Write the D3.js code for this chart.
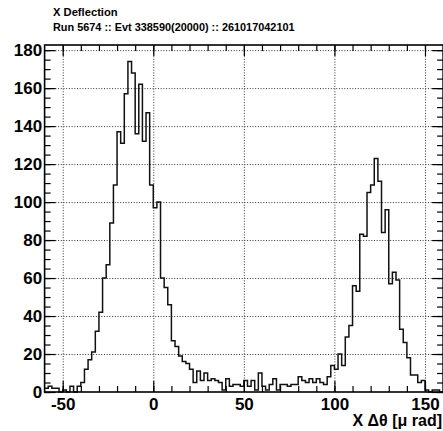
<!DOCTYPE html>
<html>
<head>
<meta charset="utf-8">
<script src="https://cdn.jsdelivr.net/npm/d3@7"></script>
<style>
  html, body { margin: 0; padding: 0; background: #fff; }
  svg { display: block; }
  text { font-family: "Liberation Sans", Arial, Helvetica, sans-serif; font-weight: bold; fill: #000; }
</style>
</head>
<body>
<script>
// ---- data ----
const titleLines = ["X Deflection", "Run 5674 :: Evt 338590(20000) :: 261017042101"];
const xTitle = "X \u0394\u03b8 [\u03bc rad]";
const xRangeData = [-60, 160];      // histogram range
const binWidth = 2;                 // histogram bin width
const counts = [
  2, 3, 2, 2, 0, 1, 0, 3, 0, 3,
  5, 12, 17, 21, 32, 42, 60, 67, 89, 109,
  137, 131, 157, 174, 168, 136, 162, 132, 147, 109,
  97, 100, 60, 55, 46, 27, 24, 19, 16, 15,
  12, 5, 11, 6, 10, 6, 7, 6, 5, 1,
  7, 3, 4, 4, 3, 6, 3, 6, 1, 10,
  3, 1, 4, 7, 1, 4, 4, 3, 4, 4,
  8, 6, 5, 7, 5, 7, 5, 4, 8, 14,
  12, 20, 14, 29, 35, 56, 53, 83, 82, 105,
  109, 123, 111, 84, 96, 57, 63, 59, 33, 26,
  18, 9, 9, 5, 6, 1, 0, 1, 1, 0
];
const xMajorTicks = [-50, 0, 50, 100, 150];
const xMinorTicks = [-50, -40, -30, -20, -10, 0, 10, 20, 30, 40, 50, 60, 70, 80, 90, 100, 110, 120, 130, 140, 150];
const yMajorTicks = [0, 20, 40, 60, 80, 100, 120, 140, 160, 180];
const yMinorTicks = d3.range(0, 181, 5);

// ---- layout ----
const W = 443, H = 431;
const frame = { left: 44.6, right: 443.1, top: 45, bottom: 392 };

const svg = d3.select("body").append("svg").attr("width", W).attr("height", H);

const x = d3.scaleLinear().domain(xRangeData).range([frame.left, frame.right]);
const yMax = d3.max(counts) * 1.05;
const y = d3.scaleLinear().domain([0, yMax]).range([frame.bottom, frame.top]);

const fh = frame.bottom - frame.top, fw = frame.right - frame.left;

// grid
const gridStyle = g => {
  g.select(".domain").remove();
  g.selectAll(".tick line").attr("stroke", "#333").attr("stroke-width", 1).attr("stroke-dasharray", "1,1.7");
};
svg.append("g").attr("transform", `translate(0,${frame.bottom})`)
  .call(d3.axisBottom(x).tickValues(xMajorTicks).tickSize(-fh).tickFormat(""))
  .call(gridStyle);
svg.append("g").attr("transform", `translate(${frame.left},0)`)
  .call(d3.axisLeft(y).tickValues(yMajorTicks.filter(v => v > 0)).tickSize(-fw).tickFormat(""))
  .call(gridStyle);

// histogram step path
const pts = [];
counts.forEach((c, i) => {
  const x0 = xRangeData[0] + i * binWidth, x1 = x0 + binWidth;
  pts.push([x(x0), y(c)], [x(x1), y(c)]);
});
svg.append("path")
  .attr("d", d3.line()(pts))
  .attr("fill", "none")
  .attr("stroke", "#111")
  .attr("stroke-width", 1.5)
  .attr("stroke-linejoin", "miter");

// axes ticks
const tickStyle = g => {
  g.select(".domain").remove();
  g.selectAll(".tick line").attr("stroke", "#000").attr("stroke-width", 1.2);
};
// bottom
svg.append("g").attr("transform", `translate(0,${frame.bottom})`)
  .call(d3.axisBottom(x).tickValues(xMinorTicks).tickSize(-6).tickFormat(""))
  .call(tickStyle);
const gxb = svg.append("g").attr("transform", `translate(0,${frame.bottom})`)
  .call(d3.axisBottom(x).tickValues(xMajorTicks).tickSize(-11).tickPadding(5.5).tickFormat(d3.format("d")))
  .call(tickStyle);
gxb.selectAll("text").attr("font-size", 17).attr("font-family", null).text(d => String(d));
// top
svg.append("g").attr("transform", `translate(0,${frame.top})`)
  .call(d3.axisTop(x).tickValues(xMinorTicks).tickSize(-6).tickFormat(""))
  .call(tickStyle);
svg.append("g").attr("transform", `translate(0,${frame.top})`)
  .call(d3.axisTop(x).tickValues(xMajorTicks).tickSize(-11).tickFormat(""))
  .call(tickStyle);
// left
svg.append("g").attr("transform", `translate(${frame.left},0)`)
  .call(d3.axisLeft(y).tickValues(yMinorTicks).tickSize(-6).tickFormat(""))
  .call(tickStyle);
const gyl = svg.append("g").attr("transform", `translate(${frame.left},0)`)
  .call(d3.axisLeft(y).tickValues(yMajorTicks).tickSize(-11).tickPadding(2.5).tickFormat(d3.format("d")))
  .call(tickStyle);
gyl.selectAll("text").attr("font-size", 17).attr("font-family", null);
// right
svg.append("g").attr("transform", `translate(${frame.right},0)`)
  .call(d3.axisRight(y).tickValues(yMinorTicks).tickSize(-6).tickFormat(""))
  .call(tickStyle);
svg.append("g").attr("transform", `translate(${frame.right},0)`)
  .call(d3.axisRight(y).tickValues(yMajorTicks).tickSize(-11).tickFormat(""))
  .call(tickStyle);

// frame
svg.append("rect")
  .attr("x", frame.left).attr("y", frame.top)
  .attr("width", fw).attr("height", fh)
  .attr("fill", "none").attr("stroke", "#000").attr("stroke-width", 1.6);

// axis title
svg.append("text")
  .attr("x", 442).attr("y", 425.5)
  .attr("text-anchor", "end")
  .attr("font-size", 16)
  .text(xTitle);

// titles
svg.append("text").attr("x", 53).attr("y", 16).attr("font-size", 11.2).text(titleLines[0]);
svg.append("text").attr("x", 53).attr("y", 31).attr("font-size", 10.9).text(titleLines[1]);
</script>
</body>
</html>
